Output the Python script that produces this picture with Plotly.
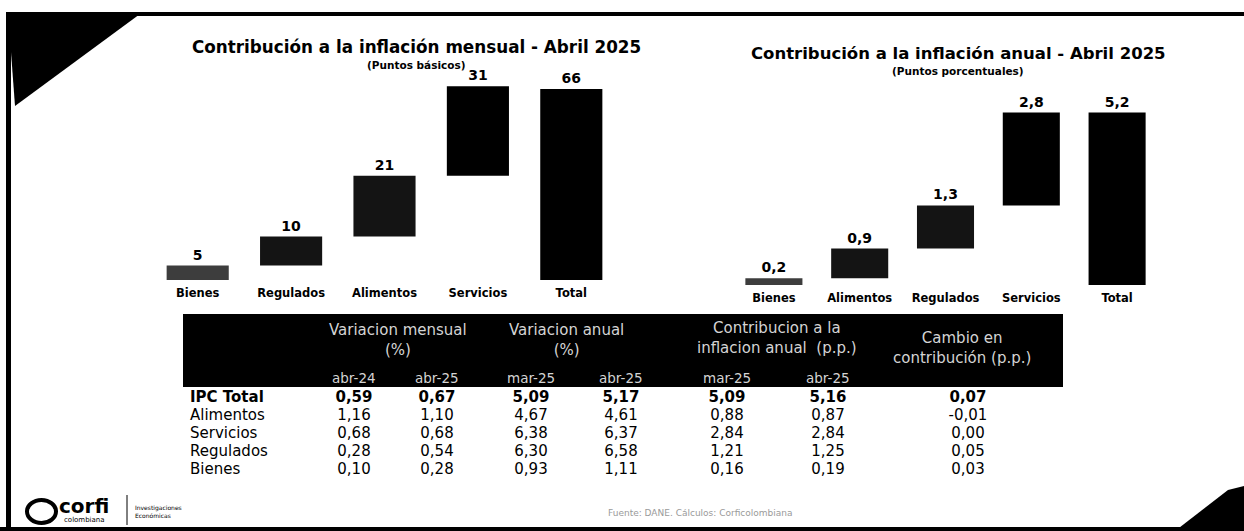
import plotly.graph_objects as go

# ---- datos ----
mens_cats = ["Bienes", "Regulados", "Alimentos", "Servicios", "Total"]
mens_vals = [5, 10, 21, 31, 66]

anual_cats = ["Bienes", "Alimentos", "Regulados", "Servicios", "Total"]
anual_vals = [0.2, 0.9, 1.3, 2.8, 5.2]

row_labels = ["IPC Total", "Alimentos", "Servicios", "Regulados", "Bienes"]
var_mens_abr24 = [0.59, 1.16, 0.68, 0.28, 0.10]
var_mens_abr25 = [0.67, 1.10, 0.68, 0.54, 0.28]
var_anual_mar25 = [5.09, 4.67, 6.38, 6.30, 0.93]
var_anual_abr25 = [5.17, 4.61, 6.37, 6.58, 1.11]
contrib_mar25 = [5.09, 0.88, 2.84, 1.21, 0.16]
contrib_abr25 = [5.16, 0.87, 2.84, 1.25, 0.19]
cambio_contrib = [0.07, -0.01, 0.00, 0.05, 0.03]

sub_headers = ["abr-24", "abr-25", "mar-25", "abr-25", "mar-25", "abr-25"]
group_headers = ["Variacion mensual<br>(%)", "Variacion anual<br>(%)",
                 "Contribucion a la<br>inflacion anual  (p.p.)",
                 "Cambio en<br>contribución (p.p.)"]

W, H = 1244, 531
FONT = "DejaVu Sans"


def px(x):
    return x / W


def py(y):
    return 1 - y / H


def waterfall_bases(vals):
    # barras relativas apiladas y la ultima (total) desde cero
    bases, run = [], 0
    for v in vals[:-1]:
        bases.append(run)
        run += v
    bases.append(0)
    return bases


def fmt(v, dec):
    return f"{v:.{dec}f}".replace(".", ",")


bar_colors = ["#3d3d3d", "#141414", "#141414", "#000000", "#000000"]

fig = go.Figure()
fig.add_trace(go.Bar(x=mens_cats, y=mens_vals, base=waterfall_bases(mens_vals),
                     marker=dict(color=bar_colors, line=dict(width=0)),
                     text=[fmt(v, 0) for v in mens_vals], textposition="outside",
                     textfont=dict(family=FONT, size=14, color="black", weight="bold"),
                     cliponaxis=False, xaxis="x", yaxis="y"))
fig.add_trace(go.Bar(x=anual_cats, y=anual_vals, base=waterfall_bases(anual_vals),
                     marker=dict(color=bar_colors, line=dict(width=0)),
                     text=[fmt(v, 1) for v in anual_vals], textposition="outside",
                     textfont=dict(family=FONT, size=14, color="black", weight="bold"),
                     cliponaxis=False, xaxis="x2", yaxis="y2"))

# ---- tabla ----
rows = list(range(len(row_labels)))
col_x = [354, 437, 531, 621, 727, 828, 968]
columns = [(var_mens_abr24, 2), (var_mens_abr25, 2), (var_anual_mar25, 2), (var_anual_abr25, 2),
           (contrib_mar25, 2), (contrib_abr25, 2), (cambio_contrib, 2)]


def cell_text(vals, dec):
    out = []
    for i, v in enumerate(vals):
        s = fmt(v, dec)
        out.append(f"<b>{s}</b>" if i == 0 else s)
    return out


fig.add_trace(go.Scatter(x=[190] * len(rows), y=rows, mode="text",
                         text=[f"<b>{t}</b>" if i == 0 else t for i, t in enumerate(row_labels)],
                         textposition="middle right",
                         textfont=dict(family=FONT, size=15, color="black"),
                         xaxis="x3", yaxis="y3"))
for cx, (vals, dec) in zip(col_x, columns):
    fig.add_trace(go.Scatter(x=[cx] * len(rows), y=rows, mode="text",
                             text=cell_text(vals, dec), textposition="middle center",
                             textfont=dict(family=FONT, size=15, color="black"),
                             xaxis="x3", yaxis="y3"))

annotations = [
    dict(x=px(416), y=py(47), text="Contribución a la inflación mensual - Abril 2025",
         font=dict(family=FONT, size=16.8, color="black", weight="bold")),
    dict(x=px(416), y=py(65), text="(Puntos básicos)",
         font=dict(family=FONT, size=10.5, color="black", weight="bold")),
    dict(x=px(958), y=py(54), text="Contribución a la inflación anual - Abril 2025",
         font=dict(family=FONT, size=16.5, color="black", weight="bold")),
    dict(x=px(958), y=py(71), text="(Puntos porcentuales)",
         font=dict(family=FONT, size=10.5, color="black", weight="bold")),
]
hdr_font = dict(family=FONT, size=15, color="#d4d4d4")
for gx, gy, txt in zip([398, 566, 777, 962], [340, 340, 338, 348], group_headers):
    annotations.append(dict(x=px(gx), y=py(gy), text=txt, font=hdr_font))
for cx, txt in zip(col_x, sub_headers):
    annotations.append(dict(x=px(cx), y=py(378), text=txt,
                            font=dict(family=FONT, size=13.5, color="#d4d4d4")))

# pie de pagina
annotations += [
    dict(x=px(84), y=py(506), text="<b>corfi</b>",
         font=dict(family=FONT, size=20, color="black")),
    dict(x=px(84), y=py(520), text="colombiana",
         font=dict(family=FONT, size=7, color="black")),
    dict(x=px(133), y=py(511), text="Investigaciones<br>Económicas", xanchor="left", align="left",
         font=dict(family=FONT, size=6, color="black")),
    dict(x=px(700), y=py(513), text="Fuente: DANE. Cálculos: Corficolombiana",
         font=dict(family=FONT, size=9, color="#9a9a9a")),
]
for a in annotations:
    a.update(xref="paper", yref="paper", showarrow=False)
    a.setdefault("xanchor", "center")
    a.setdefault("yanchor", "middle")


def poly(points):
    return "M " + " L ".join(f"{px(x)},{py(y)}" for x, y in points) + " Z"


shapes = [
    # marco de la diapositiva
    dict(type="rect", x0=px(6), x1=1, y0=py(16), y1=py(12)),
    dict(type="rect", x0=px(6), x1=px(11), y0=0, y1=py(12)),
    dict(type="rect", x0=0, x1=1, y0=0, y1=py(527)),
    dict(type="path", path=poly([(8, 12), (140, 14), (15, 106)])),
    dict(type="path", path=poly([(1175, 531), (1228, 490), (1244, 486), (1244, 531)])),
    # cabecera de la tabla
    dict(type="rect", x0=px(183), x1=px(1063), y0=py(387), y1=py(314)),
    # separador del logo
    dict(type="line", x0=px(127), x1=px(127), y0=py(495), y1=py(525),
         line=dict(color="black", width=1)),
]
for s in shapes:
    s.update(xref="paper", yref="paper", layer="below")
    if s["type"] != "line":
        s.update(fillcolor="black", line=dict(width=0))
shapes.append(dict(type="circle", xref="paper", yref="paper", x0=px(27), x1=px(56),
                   y0=py(523), y1=py(500), line=dict(color="black", width=4)))

cat_font = dict(family=FONT, size=11.5, color="black", weight="bold")
fig.update_layout(
    width=W, height=H, margin=dict(l=0, r=0, t=0, b=0),
    paper_bgcolor="white", plot_bgcolor="white",
    showlegend=False, bargap=0.335, hovermode=False,
    xaxis=dict(domain=[px(151), px(618)], type="category", categoryorder="array",
               categoryarray=mens_cats, showgrid=False, zeroline=False, showline=False,
               ticks="", tickfont=cat_font, ticklabelstandoff=4, anchor="y"),
    yaxis=dict(domain=[py(280), py(63)], range=[0, 75], visible=False, anchor="x"),
    xaxis2=dict(domain=[px(731), px(1160)], type="category", categoryorder="array",
                categoryarray=anual_cats, showgrid=False, zeroline=False, showline=False,
                ticks="", tickfont=cat_font, ticklabelstandoff=4, anchor="y2"),
    yaxis2=dict(domain=[py(285), py(86)], range=[0, 6], visible=False, anchor="x2"),
    xaxis3=dict(domain=[0, 1], range=[0, W], visible=False, anchor="y3"),
    yaxis3=dict(domain=[py(479), py(389)], range=[4.5, -0.5], visible=False, anchor="x3"),
    annotations=annotations, shapes=shapes,
)

# sin margen del body para que la figura ocupe toda la ventana
fig.write_html("out.html", config={"displayModeBar": False},
               post_script="document.body.style.margin = '0';")
